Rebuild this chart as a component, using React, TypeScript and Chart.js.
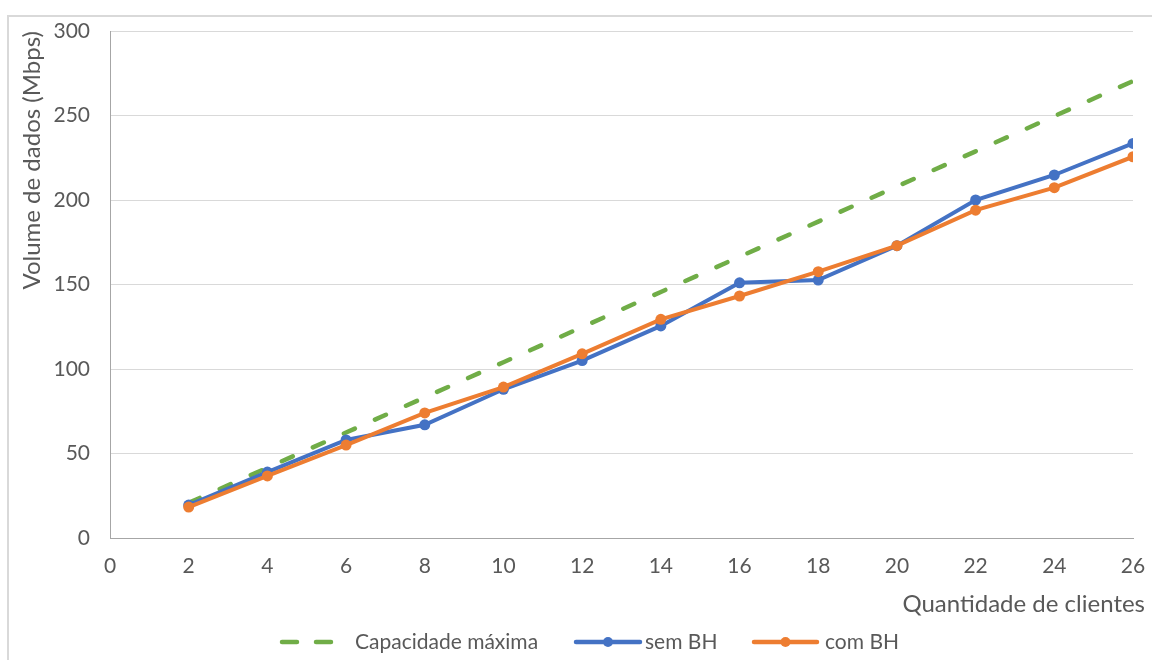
import React, { useEffect, useRef } from "react";
import { Chart, registerables } from "chart.js";

Chart.register(...registerables);

const clients = [2, 4, 6, 8, 10, 12, 14, 16, 18, 20, 22, 24, 26];
const capacidadeMaxima = [20.8, 41.6, 62.4, 83.2, 104, 124.8, 145.6, 166.4, 187.2, 208, 228.8, 249.6, 270.4];
const semBH = [19.5, 39, 58, 67, 88, 105, 125.5, 151, 152.6, 173, 200, 214.8, 233.5];
const comBH = [18.3, 36.7, 55, 74, 89.3, 109, 129.4, 143.2, 157.6, 173, 194, 207.3, 225.6];
const seriesNames = ["Capacidade máxima", "sem BH", "com BH"];
const xTitle = "Quantidade de clientes";
const yTitle = "Volume de dados (Mbps)";

const GREEN = "#70AD47";
const BLUE = "#4472C4";
const ORANGE = "#ED7D31";
const TEXT = "#595959";
const FONT = "Lato, 'Open Sans', sans-serif";
const TICK_SIZE = 21;
const TITLE_SIZE = 24;

const toPts = (vals: number[]) => vals.map((v, i) => ({ x: clients[i], y: v }));

const customDraw = {
  id: "customDraw",
  afterDraw(chart: any) {
    const ctx = chart.ctx as CanvasRenderingContext2D;
    ctx.save();
    // x-axis title
    ctx.font = `${TITLE_SIZE}px ${FONT}`;
    ctx.fillStyle = TEXT;
    ctx.textAlign = "right";
    ctx.textBaseline = "middle";
    ctx.fillText(xTitle, 1145, 604);

    // legend
    const ly = 642;
    ctx.font = `${TICK_SIZE}px ${FONT}`;
    ctx.textAlign = "left";
    ctx.strokeStyle = GREEN;
    ctx.lineWidth = 4.5;
    ctx.lineCap = "round";
    ctx.beginPath();
    ctx.moveTo(282, ly);
    ctx.lineTo(297, ly);
    ctx.moveTo(316, ly);
    ctx.lineTo(331, ly);
    ctx.stroke();
    ctx.fillStyle = TEXT;
    ctx.fillText(seriesNames[0], 355, ly);
    const drawLine = (x0: number, x1: number, color: string) => {
      ctx.strokeStyle = color;
      ctx.fillStyle = color;
      ctx.lineWidth = 4.5;
      ctx.lineCap = "round";
      ctx.beginPath();
      ctx.moveTo(x0, ly);
      ctx.lineTo(x1, ly);
      ctx.stroke();
      ctx.beginPath();
      ctx.arc((x0 + x1) / 2, ly, 5, 0, Math.PI * 2);
      ctx.fill();
    };
    drawLine(576, 640, BLUE);
    ctx.fillStyle = TEXT;
    ctx.fillText(seriesNames[1], 645, ly);
    drawLine(754, 817, ORANGE);
    ctx.fillStyle = TEXT;
    ctx.fillText(seriesNames[2], 825, ly);
    ctx.restore();
  },
};

export default function App() {
  const ref = useRef<HTMLCanvasElement | null>(null);

  useEffect(() => {
    if (!ref.current) return;
    const chart = new Chart(ref.current, {
      type: "line",
      data: {
        datasets: [
          {
            label: seriesNames[0],
            data: toPts(capacidadeMaxima),
            borderColor: GREEN,
            backgroundColor: GREEN,
            borderWidth: 4.5,
            borderDash: [12, 22],
            borderCapStyle: "round",
            pointRadius: 0,
            order: 3,
          },
          {
            label: seriesNames[1],
            data: toPts(semBH),
            borderColor: BLUE,
            backgroundColor: BLUE,
            borderWidth: 4,
            pointRadius: 5.5,
            pointBorderWidth: 0,
            order: 2,
          },
          {
            label: seriesNames[2],
            data: toPts(comBH),
            borderColor: ORANGE,
            backgroundColor: ORANGE,
            borderWidth: 4,
            pointRadius: 5.5,
            pointBorderWidth: 0,
            order: 1,
          },
        ],
      },
      options: {
        animation: false,
        responsive: false,
        maintainAspectRatio: false,
        layout: { padding: { left: 15, top: 31, right: 19, bottom: 82 } },
        plugins: { legend: { display: false }, tooltip: { enabled: false } },
        scales: {
          x: {
            type: "linear",
            min: 0,
            max: 26,
            ticks: { stepSize: 2, color: TEXT, font: { family: FONT, size: TICK_SIZE }, padding: 16 },
            grid: { display: false, drawTicks: false },
            border: { display: true, color: "#A6A6A6", width: 1 },
            afterFit: (s: any) => {
              s.height = 40;
              s.paddingLeft = 0;
              s.paddingRight = 0;
            },
          },
          y: {
            min: 0,
            max: 300,
            ticks: { stepSize: 50, color: TEXT, font: { family: FONT, size: TICK_SIZE }, padding: 20 },
            grid: { color: "#D9D9D9", lineWidth: 1, drawTicks: false },
            border: { display: true, color: "#A6A6A6", width: 1 },
            title: {
              display: true,
              text: yTitle,
              align: "end",
              color: TEXT,
              font: { family: FONT, size: TITLE_SIZE },
              padding: { top: 3, bottom: 0 },
            },
            afterFit: (s: any) => {
              s.width = 95;
              s.paddingTop = 0;
              s.paddingBottom = 0;
            },
          },
        },
      },
      plugins: [customDraw],
    } as any);
    return () => chart.destroy();
  }, []);

  return (
    <div style={{ position: "fixed", left: 0, top: 0, width: 1152, height: 660, background: "#fff" }}>
      <div
        style={{
          position: "absolute",
          left: 7,
          top: 15,
          width: 1160,
          height: 660,
          borderLeft: "2px solid #D9D9D9",
          borderTop: "2px solid #D9D9D9",
          boxSizing: "border-box",
        }}
      />
      <canvas ref={ref} width={1152} height={660} style={{ position: "absolute", left: 0, top: 0 }} />
    </div>
  );
}
